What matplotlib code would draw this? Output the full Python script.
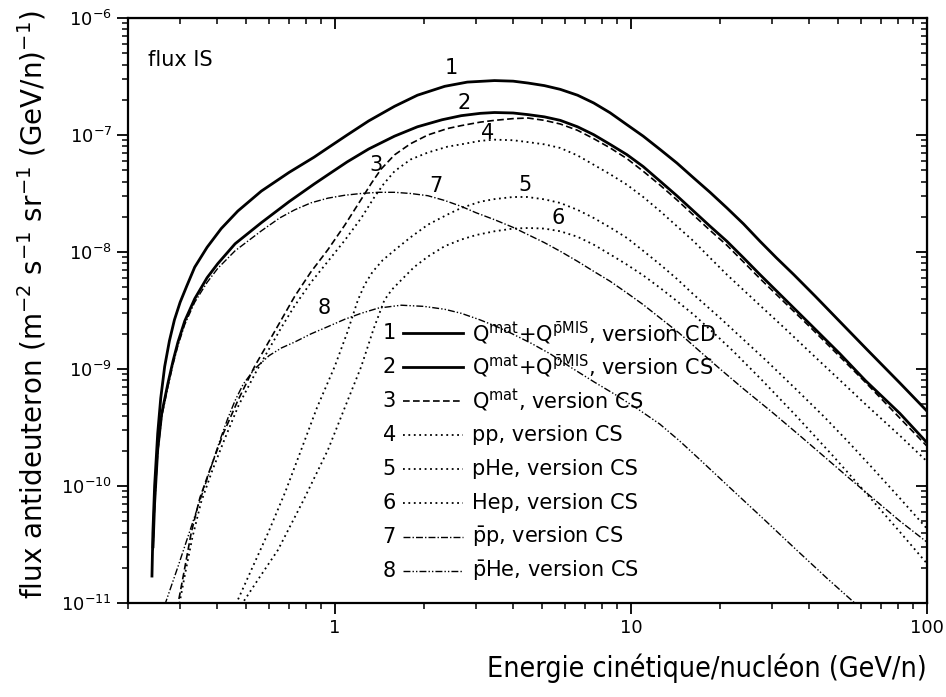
import numpy as np
import matplotlib
matplotlib.use('Agg')
import matplotlib.pyplot as plt
from matplotlib.ticker import FuncFormatter, NullFormatter, LogLocator

plt.rcParams['font.family'] = ['DejaVu Sans']
plt.rcParams['mathtext.fontset'] = 'dejavusans'

# valeurs : energie (GeV/n) et log10 du flux

# courbe 1 : Qmat + Qpbar MIS, version CD
e1 = [0.241, 0.2427, 0.246, 0.252, 0.258, 0.266, 0.276, 0.287, 0.30, 0.316, 0.336, 0.37, 0.413,
      0.47, 0.564, 0.7, 0.85, 0.947, 1.1, 1.3, 1.59, 1.9, 2.35, 2.8, 3.46, 4.0, 4.49, 5.1, 5.77,
      6.6, 7.48, 8.5, 9.69, 11, 12.56, 14.3, 16.3, 18.5, 21.1, 24, 27.3, 31, 35.5, 42, 51, 62.5,
      81, 100]
lf1 = [-10.77, -10.40, -10.0, -9.55, -9.25, -8.98, -8.76, -8.58, -8.43, -8.29, -8.13, -7.96, -7.80,
       -7.65, -7.48, -7.32, -7.19, -7.11, -7.00, -6.88, -6.755, -6.66, -6.584, -6.548, -6.535,
       -6.54, -6.556, -6.578, -6.61, -6.66, -6.726, -6.81, -6.912, -7.01, -7.125, -7.24, -7.368,
       -7.49, -7.624, -7.76, -7.909, -8.05, -8.194, -8.38, -8.60, -8.83, -9.12, -9.36]

# courbe 2 : Qmat + Qpbar MIS, version CS
e2 = [0.243, 0.246, 0.252, 0.26, 0.273, 0.284, 0.295, 0.311, 0.336, 0.37, 0.402, 0.46, 0.564, 0.7,
      0.85, 0.947, 1.1, 1.3, 1.59, 1.9, 2.3, 2.67, 3.1, 3.46, 4.0, 4.49, 5.1, 5.77, 6.6, 7.48, 8.5,
      9.69, 11, 12.56, 14.3, 16.3, 18.5, 21.1, 24, 27.3, 33, 40.4, 50.8, 62, 81, 100]
lf2 = [-10.52, -10.15, -9.69, -9.38, -9.12, -8.93, -8.77, -8.59, -8.40, -8.22, -8.10, -7.93, -7.75,
       -7.57, -7.42, -7.34, -7.23, -7.12, -7.01, -6.93, -6.87, -6.835, -6.815, -6.808, -6.812,
       -6.826, -6.845, -6.875, -6.93, -6.997, -7.08, -7.168, -7.27, -7.396, -7.52, -7.652, -7.78,
       -7.909, -8.05, -8.194, -8.40, -8.62, -8.87, -9.10, -9.38, -9.63]

# courbe 3 : Qmat
e3 = [0.293, 0.31, 0.327, 0.35, 0.382, 0.42, 0.47, 0.535, 0.6, 0.659, 0.731, 0.83, 0.947, 1.08,
      1.227, 1.33, 1.434, 1.59, 1.8, 2.06, 2.4, 2.67, 3.1, 3.46, 4.0, 4.49, 5.1, 5.77, 6.6, 7.48,
      8.5, 9.69, 11, 12.56, 14.3, 16.3, 18.5, 21.1, 24, 27.3, 33, 40.4, 50.8, 62, 81, 100]
lf3 = [-11.05, -10.72, -10.40, -10.10, -9.83, -9.55, -9.27, -8.98, -8.76, -8.58, -8.38, -8.17,
       -7.98, -7.77, -7.55, -7.41, -7.29, -7.17, -7.075, -7.00, -6.945, -6.92, -6.89, -6.875,
       -6.86, -6.855, -6.875, -6.906, -6.96, -7.031, -7.11, -7.202, -7.31, -7.43, -7.555, -7.687,
       -7.815, -7.943, -8.085, -8.228, -8.43, -8.645, -8.895, -9.115, -9.42, -9.66]

# courbe 4 : pp
e4 = [0.296, 0.313, 0.33, 0.353, 0.385, 0.424, 0.473, 0.54, 0.605, 0.665, 0.731, 0.83, 0.947, 1.08,
      1.227, 1.36, 1.46, 1.59, 1.8, 2.06, 2.4, 2.67, 3.1, 3.46, 4.0, 4.46, 5.1, 5.77, 6.6, 7.48,
      8.5, 9.69, 11, 12.56, 14.3, 16.3, 18.5, 21.1, 27.3, 33, 42.4, 52, 62.5, 81, 100]
lf4 = [-11.05, -10.73, -10.44, -10.14, -9.87, -9.60, -9.31, -9.03, -8.81, -8.63, -8.46, -8.26,
       -8.08, -7.90, -7.71, -7.53, -7.42, -7.31, -7.21, -7.15, -7.10, -7.08, -7.05, -7.04, -7.045,
       -7.06, -7.08, -7.111, -7.175, -7.254, -7.335, -7.425, -7.53, -7.652, -7.78, -7.909, -8.05,
       -8.194, -8.457, -8.65, -8.91, -9.12, -9.31, -9.57, -9.79]

# courbe 5 : pHe
e5 = [0.452, 0.47, 0.53, 0.594, 0.68, 0.769, 0.87, 0.998, 1.1, 1.196, 1.26, 1.34, 1.45, 1.59, 1.8,
      2.06, 2.4, 2.67, 3.1, 3.46, 4.0, 4.46, 5.1, 5.77, 6.6, 7.48, 8.5, 9.69, 11, 12.56, 14.3,
      16.3, 20, 28.7, 36, 45, 55, 67, 81, 100]
lf5 = [-11.05, -10.974, -10.68, -10.404, -10.05, -9.692, -9.33, -8.98, -8.69, -8.41, -8.28, -8.17,
       -8.07, -7.985, -7.875, -7.767, -7.68, -7.624, -7.57, -7.548, -7.53, -7.53, -7.55, -7.581,
       -7.64, -7.709, -7.79, -7.88, -7.99, -8.108, -8.23, -8.365, -8.564, -8.93, -9.17, -9.41,
       -9.64, -9.875, -10.105, -10.365]

# courbe 6 : Hep
e6 = [0.482, 0.55, 0.642, 0.78, 0.947, 1.08, 1.227, 1.35, 1.47, 1.56, 1.675, 1.85, 2.06, 2.35, 2.67,
      3.0, 3.46, 4.0, 4.49, 5.1, 5.77, 6.6, 7.48, 8.5, 9.69, 11, 12.56, 14.3, 16.3, 19, 22.2, 28,
      36, 48.3, 62, 80, 100]
lf6 = [-11.02, -10.80, -10.547, -10.13, -9.692, -9.33, -8.98, -8.66, -8.41, -8.32, -8.24, -8.13,
       -8.04, -7.95, -7.894, -7.855, -7.823, -7.80, -7.795, -7.80, -7.823, -7.87, -7.937, -8.02,
       -8.108, -8.20, -8.308, -8.42, -8.536, -8.69, -8.85, -9.107, -9.396, -9.747, -10.056,
       -10.377, -10.663]

# courbe 7 : pbar p
e7 = [0.243, 0.246, 0.252, 0.26, 0.273, 0.284, 0.295, 0.311, 0.336, 0.37, 0.402, 0.46, 0.564, 0.65,
      0.731, 0.83, 0.947, 1.08, 1.227, 1.4, 1.59, 1.8, 2.06, 2.35, 2.67, 3.0, 3.46, 4.0, 4.49,
      5.1, 5.77, 6.6, 7.48, 8.5, 9.69, 11, 12.2, 14.5, 17.1, 20, 24, 30, 37.2, 45, 55, 66, 81,
      100]
lf7 = [-10.55, -10.18, -9.72, -9.41, -9.15, -8.96, -8.80, -8.62, -8.43, -8.26, -8.14, -7.99, -7.82,
       -7.71, -7.64, -7.58, -7.54, -7.515, -7.50, -7.49, -7.49, -7.50, -7.519, -7.56, -7.61,
       -7.665, -7.724, -7.79, -7.852, -7.92, -7.994, -8.08, -8.165, -8.25, -8.35, -8.45, -8.54,
       -8.69, -8.85, -9.0, -9.17, -9.37, -9.57, -9.75, -9.94, -10.11, -10.30, -10.48]

# courbe 8 : pbar He
e8 = [0.266, 0.295, 0.336, 0.382, 0.41, 0.435, 0.46, 0.49, 0.535, 0.6, 0.66, 0.731, 0.83, 0.947,
      1.08, 1.227, 1.4, 1.675, 2.0, 2.35, 2.67, 3.09, 3.5, 3.94, 4.6, 5.33, 6.3, 7.5, 8.8, 10.45,
      12.5, 14.6, 17.1, 21.6, 28, 36, 46, 56.4, 62]
lf8 = [-11.02, -10.69, -10.26, -9.835, -9.60, -9.42, -9.27, -9.13, -9.0, -8.885, -8.82, -8.77,
       -8.70, -8.638, -8.575, -8.524, -8.48, -8.455, -8.465, -8.49, -8.524, -8.58, -8.635, -8.695,
       -8.78, -8.87, -8.99, -9.11, -9.215, -9.335, -9.47, -9.615, -9.775, -10.015, -10.28, -10.54,
       -10.79, -10.99, -11.09]

labels = [r'Q$^{\mathrm{mat}}$+Q$^{\bar{\mathrm{p}}\mathrm{MIS}}$, version CD',
          r'Q$^{\mathrm{mat}}$+Q$^{\bar{\mathrm{p}}\mathrm{MIS}}$, version CS',
          r'Q$^{\mathrm{mat}}$, version CS',
          'pp, version CS',
          'pHe, version CS',
          'Hep, version CS',
          r'$\bar{\mathrm{p}}$p, version CS',
          r'$\bar{\mathrm{p}}$He, version CS']

# position des numeros sur les courbes
num_x = [2.47, 2.74, 1.38, 3.29, 4.37, 5.70, 2.20, 0.923]
num_y = [3.74e-7, 1.88e-7, 5.57e-8, 1.04e-7, 3.76e-8, 1.95e-8, 3.64e-8, 3.3e-9]

yticks = [1e-11, 1e-10, 1e-9, 1e-8, 1e-7, 1e-6]
xticks = [1, 10, 100]

styles = [dict(ls='-', lw=2.0), dict(ls='-', lw=2.0),
          dict(ls=(0, (4, 2)), lw=1.2), dict(ls=(0, (1, 2)), lw=1.3),
          dict(ls=(0, (1, 2)), lw=1.3), dict(ls=(0, (1, 2)), lw=1.3),
          dict(ls=(0, (5, 1.5, 1, 1.5)), lw=1.0), dict(ls=(0, (5, 1.5, 1, 1.5, 1, 1.5)), lw=1.0)]

energies = [e1, e2, e3, e4, e5, e6, e7, e8]
logflux = [lf1, lf2, lf3, lf4, lf5, lf6, lf7, lf8]

fig = plt.figure(figsize=(9.46, 6.97), dpi=100)
ax = fig.add_axes([0.1353, 0.1349, 0.8446, 0.8393])

for e, lf, st in zip(energies, logflux, styles):
    ax.plot(e, 10.0 ** np.array(lf), color='black', **st)

ax.set_xscale('log')
ax.set_yscale('log')
ax.set_xlim(0.2, 100)
ax.set_ylim(1e-11, 1e-6)
ax.set_yticks(yticks)
ax.set_xticks(xticks)

for i in range(8):
    ax.text(num_x[i], num_y[i], str(i + 1), fontsize=15, ha='center', va='center')

# legende faite a la main
for i in range(8):
    y = 0.4615 - i * 0.058
    ax.text(0.327, y, str(i + 1), transform=ax.transAxes, fontsize=15, ha='center', va='center')
    ax.plot([0.344, 0.419], [y, y], transform=ax.transAxes, color='black', **styles[i])
    ax.text(0.4305, y, labels[i], transform=ax.transAxes, fontsize=15, ha='left', va='center')

ax.text(0.025, 0.928, 'flux IS', transform=ax.transAxes, fontsize=15, ha='left', va='center')

ax.xaxis.set_major_formatter(FuncFormatter(lambda v, p: f'{v:g}'))
ax.xaxis.set_minor_formatter(NullFormatter())
ax.yaxis.set_minor_locator(LogLocator(base=10, subs=np.arange(2, 10)))
ax.yaxis.set_minor_formatter(NullFormatter())

ax.tick_params(which='major', direction='out', length=8, width=1.3, labelsize=13)
ax.tick_params(which='minor', direction='out', length=4.5, width=1.1)
for s in ax.spines.values():
    s.set_linewidth(1.6)

secx = ax.secondary_xaxis('top')
secx.set_xticks(xticks)
secx.tick_params(which='major', direction='in', length=8, width=1.3, labeltop=False)
secx.tick_params(which='minor', direction='in', length=4.5, width=1.1)
secx.xaxis.set_major_formatter(NullFormatter())
secx.xaxis.set_minor_formatter(NullFormatter())
secy = ax.secondary_yaxis('right')
secy.set_yticks(yticks)
secy.tick_params(which='major', direction='in', length=8, width=1.3, labelright=False)
secy.tick_params(which='minor', direction='in', length=4.5, width=1.1)
secy.yaxis.set_minor_locator(LogLocator(base=10, subs=np.arange(2, 10)))
secy.yaxis.set_major_formatter(NullFormatter())
secy.yaxis.set_minor_formatter(NullFormatter())

ax.set_xlabel('Energie cinétique/nucléon (GeV/n)', fontsize=20.5, fontstretch='condensed',
              loc='right', labelpad=12)
ax.set_ylabel(r'flux antideuteron (m$^{-2}$ s$^{-1}$ sr$^{-1}$ (GeV/n)$^{-1}$)', fontsize=20)
ax.yaxis.set_label_coords(-0.1, 0.51)

fig.savefig('out.png', dpi=100)
